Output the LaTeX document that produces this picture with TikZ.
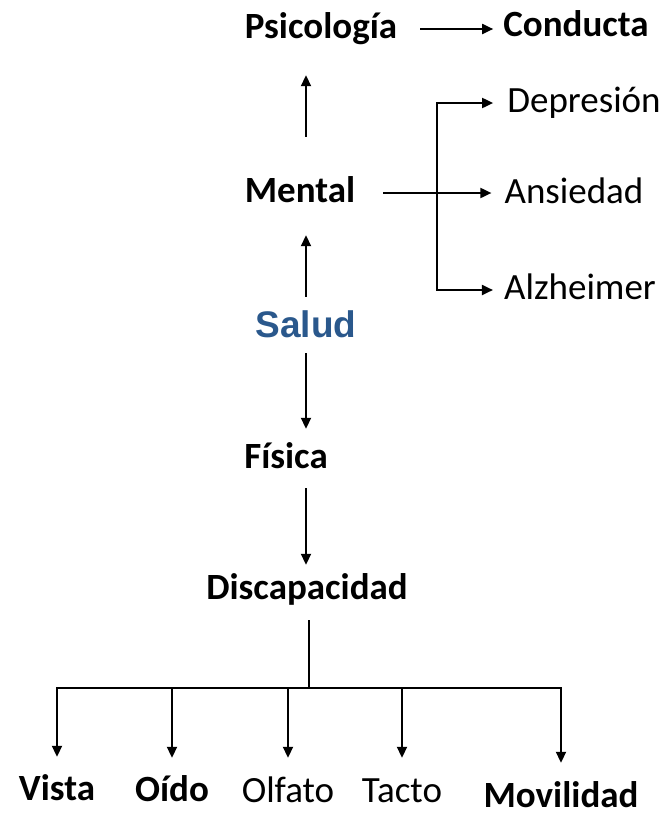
\documentclass[tikz,border=0pt]{standalone}
\usepackage{fontspec}
\setmainfont{Carlito}
\newfontfamily\arialfont{Liberation Sans}
\usetikzlibrary{arrows.meta}
\definecolor{saludblue}{RGB}{42,88,140}
\begin{document}
\begin{tikzpicture}[x=1pt,y=-1pt,
  lbl/.style={anchor=base,inner sep=0pt,text height=26pt,text depth=8pt,font=\fontsize{37}{44}\selectfont},
  blbl/.style={lbl,font=\fontsize{37}{44}\selectfont\bfseries},
  conn/.style={line width=1.9pt,-{Triangle[length=11pt,width=10pt]}},
  plain/.style={line width=1.9pt},
  both/.style={line width=1.9pt,{Triangle[length=11pt,width=10pt]}-{Triangle[length=11pt,width=10pt]}}]
\useasboundingbox (0,0) rectangle (667,817);
\node[blbl] (psi) at (321,38) {Psicología};
\node[blbl] (con) at (576,36) {Conducta};
\node[lbl]  (dep) at (584,112) {Depresión};
\node[blbl] (men) at (300,202) {Mental};
\node[lbl]  (ans) at (574,203) {Ansiedad};
\node[lbl]  (alz) at (580,299) {Alzheimer};
\node[lbl,font=\arialfont\fontsize{37}{44}\selectfont\bfseries,text=saludblue] (sal) at (306,337) {Salud};
\node[blbl] (fis) at (286,468) {Física};
\node[blbl] (dis) at (307,599) {Discapacidad};
\node[blbl] (vis) at (57,800) {Vista};
\node[blbl] (oid) at (172,801) {Oído};
\node[lbl]  (olf) at (288,802) {Olfato};
\node[lbl]  (tac) at (402,802) {Tacto};
\node[blbl] (mov) at (561,807) {Movilidad};
\coordinate (br) at (437,193);
\coordinate (hub) at (309,688);
% connectors
\draw[conn,shorten <=39pt,shorten >=29pt] (sal |- men.north) -- (sal |- psi.south);
\draw[conn,shorten <=14pt,shorten >=25pt] (sal.north) -- (sal |- men.south);
\draw[conn,shorten <=23pt,shorten >=10pt] (psi.east) -- (psi.east -| con.west);
\draw[conn,shorten <=28pt,shorten >=13pt] (men.east) -- (men.east -| ans.west);
\draw[both,shorten <=14pt,shorten >=11pt] (dep.west) -- (br |- dep.west) -- (br |- alz.west) -- (alz.west);
\draw[conn,shorten <=8pt,shorten >=13pt] (sal.south) -- (sal |- fis.north);
\draw[conn,shorten <=12pt,shorten >=8pt] (sal |- fis.south) -- (sal |- dis.north);
\draw[plain,shorten <=13pt] (hub |- dis.south) -- (hub);
\draw[conn,shorten >=17pt] (hub) -| (vis.north);
\draw[conn,shorten >=17pt] (hub) -| (oid.north);
\draw[conn,shorten >=18pt] (hub) -| (olf.north);
\draw[conn,shorten >=18pt] (hub) -| (tac.north);
\draw[conn,shorten >=18pt] (hub) -| (mov.north);
\end{tikzpicture}
\end{document}
